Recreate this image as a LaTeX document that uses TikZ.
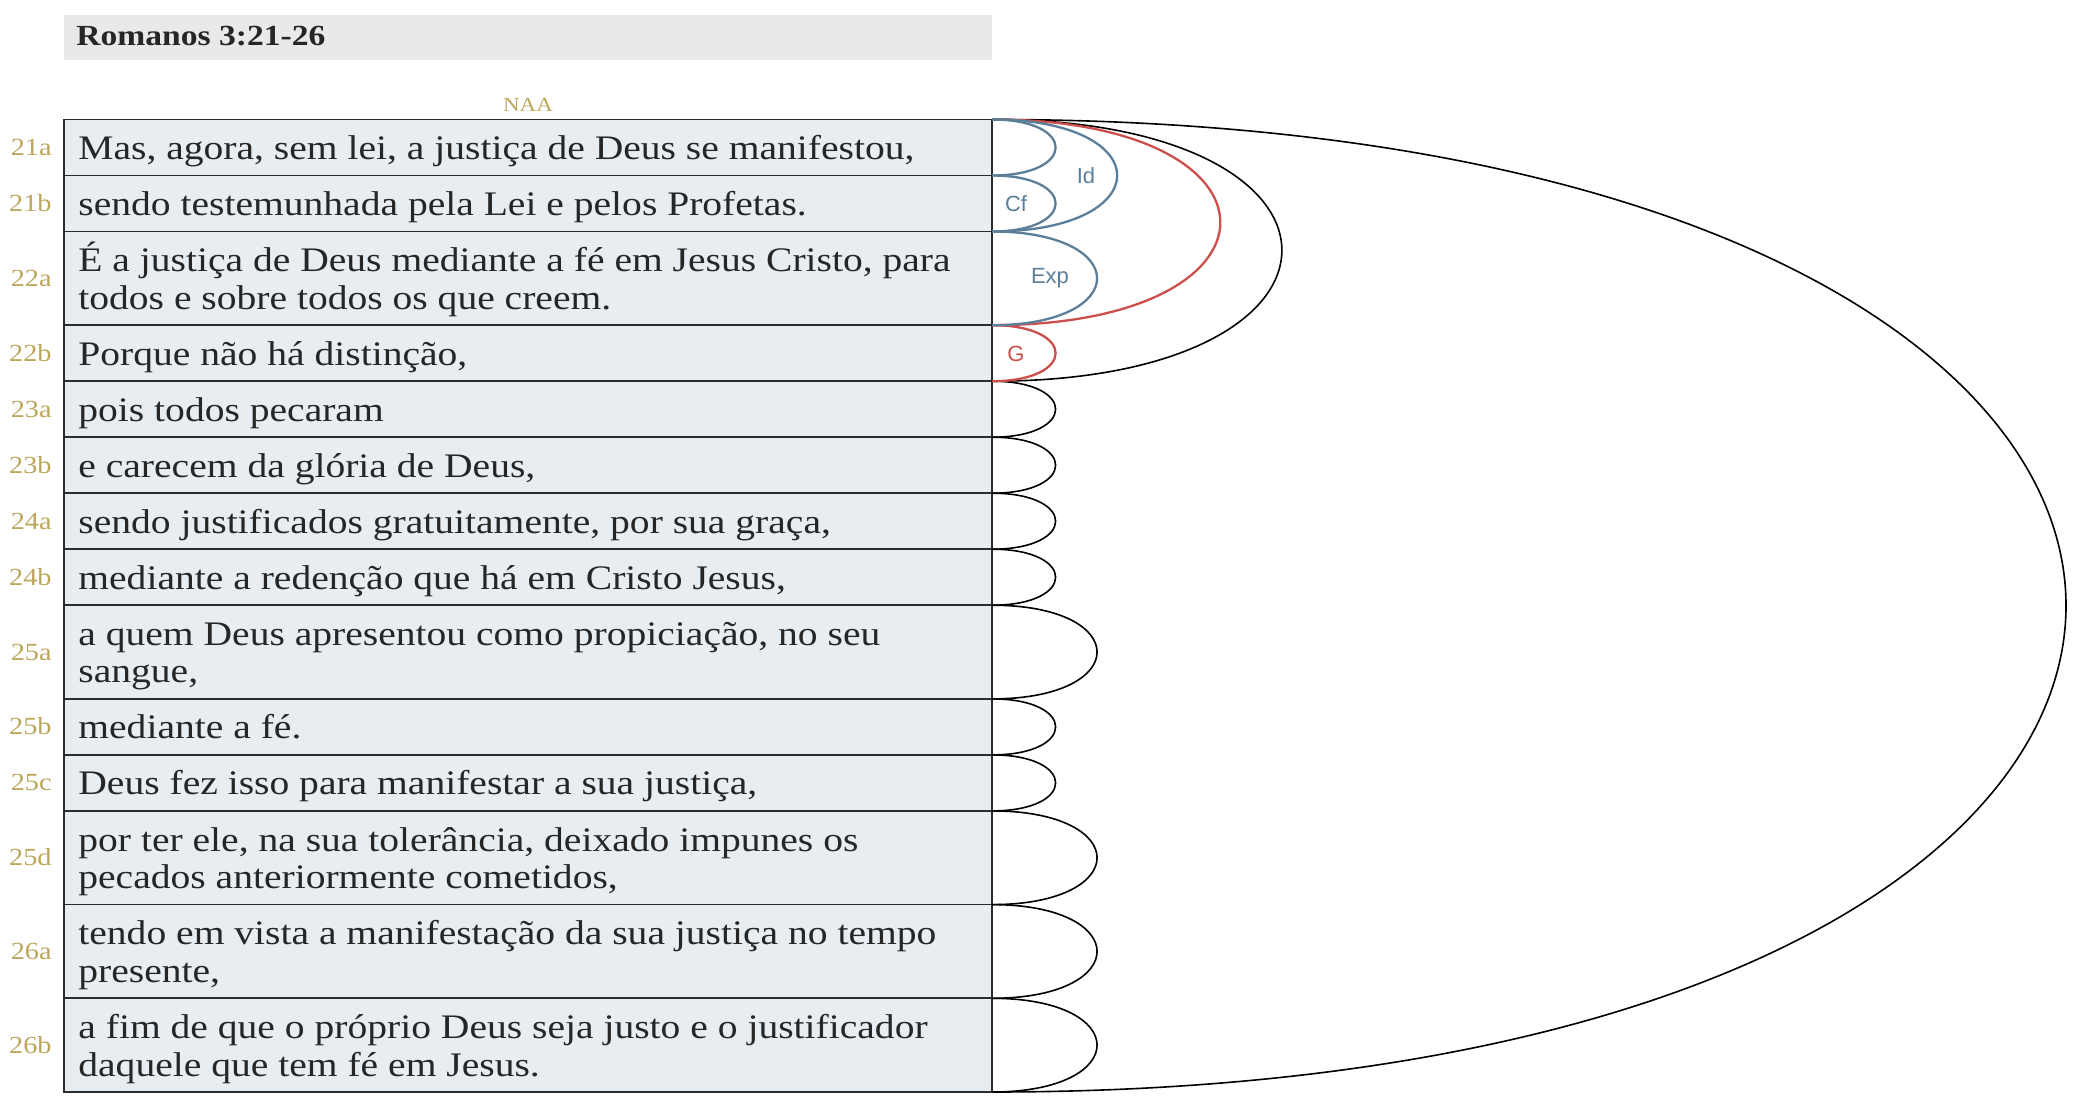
\documentclass[tikz,border=0pt]{standalone}
\usepackage{fontspec}
\setmainfont[FakeStretch=1.15]{Liberation Serif}
\newfontfamily\lblsans{Liberation Sans}
\usetikzlibrary{calc}
\definecolor{rowfill}{HTML}{E8EDF1}
\definecolor{rowline}{HTML}{2B2B2B}
\definecolor{txtcol}{HTML}{262626}
\definecolor{gold}{HTML}{BBA65C}
\definecolor{titlebg}{HTML}{E9E9E9}
\definecolor{arcblue}{HTML}{5B7F99}
\definecolor{arcred}{HTML}{CC4F4B}
\begin{document}
\begin{tikzpicture}[x=0.5pt,y=-0.5pt,
  rowbox/.style={draw=rowline,fill=rowfill,line width=0.85pt,minimum width=464pt,inner sep=0pt,outer sep=0pt},
  rowtxt/.style={anchor=base west,inner sep=0pt,text=txtcol,font=\fontsize{17.2pt}{18.7pt}\selectfont},
  vlabel/.style={anchor=base east,inner sep=0pt,text=gold,font=\fontsize{12.3pt}{14pt}\selectfont},
  arclabel/.style={inner sep=0pt,font=\lblsans\fontsize{11pt}{13pt}\selectfont},
  blackarc/.style={draw=black,line width=0.8pt},
  bluearc/.style={draw=arcblue,line width=1.15pt},
  redarc/.style={draw=arcred,line width=1.15pt}]
\useasboundingbox (0,0) rectangle (2080,1106);

% title
\node[fill=titlebg,minimum width=464pt,minimum height=22.55pt,inner sep=0pt] (titlebar) at (528,37.15) {};
\node[anchor=base west,inner sep=0pt,text=txtcol,font=\bfseries\fontsize{14.6pt}{16pt}\selectfont] (title) at (76,46) {Romanos 3:21-26};
\node[anchor=base,inner sep=0pt,text=gold,font=\fontsize{10pt}{12pt}\selectfont] (naa) at (528,111.7) {NAA};

% rows
\node[rowbox,minimum height=28pt] (r21a) at (528,147.5) {};
\node[rowbox,minimum height=28pt] (r21b) at (528,203.5) {};
\node[rowbox,minimum height=46.85pt] (r22a) at (528,278.35) {};
\node[rowbox,minimum height=28pt] (r22b) at (528,353.2) {};
\node[rowbox,minimum height=28pt] (r23a) at (528,409.2) {};
\node[rowbox,minimum height=28pt] (r23b) at (528,465.2) {};
\node[rowbox,minimum height=28pt] (r24a) at (528,521.2) {};
\node[rowbox,minimum height=28pt] (r24b) at (528,577.2) {};
\node[rowbox,minimum height=46.85pt] (r25a) at (528,652.05) {};
\node[rowbox,minimum height=28pt] (r25b) at (528,726.9) {};
\node[rowbox,minimum height=28pt] (r25c) at (528,782.9) {};
\node[rowbox,minimum height=46.85pt] (r25d) at (528,857.75) {};
\node[rowbox,minimum height=46.85pt] (r26a) at (528,951.45) {};
\node[rowbox,minimum height=46.85pt] (r26b) at (528,1045.15) {};

% row texts
\node[rowtxt] (t21a) at ($(r21a.west)+(14,12)$) {Mas, agora, sem lei, a justiça de Deus se manifestou,};
\node[rowtxt] (t21b) at ($(r21b.west)+(14,12)$) {sendo testemunhada pela Lei e pelos Profetas.};
\node[rowtxt] (t22a) at ($(r22a.west)+(14,-6.5)$) {\vtop{\hbox{É a justiça de Deus mediante a fé em Jesus Cristo, para}\hbox{todos e sobre todos os que creem.}}};
\node[rowtxt] (t22b) at ($(r22b.west)+(14,12)$) {Porque não há distinção,};
\node[rowtxt] (t23a) at ($(r23a.west)+(14,12)$) {pois todos pecaram};
\node[rowtxt] (t23b) at ($(r23b.west)+(14,12)$) {e carecem da glória de Deus,};
\node[rowtxt] (t24a) at ($(r24a.west)+(14,12)$) {sendo justificados gratuitamente, por sua graça,};
\node[rowtxt] (t24b) at ($(r24b.west)+(14,12)$) {mediante a redenção que há em Cristo Jesus,};
\node[rowtxt] (t25a) at ($(r25a.west)+(14,-6.5)$) {\vtop{\hbox{a quem Deus apresentou como propiciação, no seu}\hbox{sangue,}}};
\node[rowtxt] (t25b) at ($(r25b.west)+(14,12)$) {mediante a fé.};
\node[rowtxt] (t25c) at ($(r25c.west)+(14,12)$) {Deus fez isso para manifestar a sua justiça,};
\node[rowtxt] (t25d) at ($(r25d.west)+(14,-6.5)$) {\vtop{\hbox{por ter ele, na sua tolerância, deixado impunes os}\hbox{pecados anteriormente cometidos,}}};
\node[rowtxt] (t26a) at ($(r26a.west)+(14,-6.5)$) {\vtop{\hbox{tendo em vista a manifestação da sua justiça no tempo}\hbox{presente,}}};
\node[rowtxt] (t26b) at ($(r26b.west)+(14,-6.5)$) {\vtop{\hbox{a fim de que o próprio Deus seja justo e o justificador}\hbox{daquele que tem fé em Jesus.}}};

% verse labels
\node[vlabel] (v21a) at ($(r21a.west)+(-12,8)$) {21a};
\node[vlabel] (v21b) at ($(r21b.west)+(-12,8)$) {21b};
\node[vlabel] (v22a) at ($(r22a.west)+(-12,8)$) {22a};
\node[vlabel] (v22b) at ($(r22b.west)+(-12,8)$) {22b};
\node[vlabel] (v23a) at ($(r23a.west)+(-12,8)$) {23a};
\node[vlabel] (v23b) at ($(r23b.west)+(-12,8)$) {23b};
\node[vlabel] (v24a) at ($(r24a.west)+(-12,8)$) {24a};
\node[vlabel] (v24b) at ($(r24b.west)+(-12,8)$) {24b};
\node[vlabel] (v25a) at ($(r25a.west)+(-12,8)$) {25a};
\node[vlabel] (v25b) at ($(r25b.west)+(-12,8)$) {25b};
\node[vlabel] (v25c) at ($(r25c.west)+(-12,8)$) {25c};
\node[vlabel] (v25d) at ($(r25d.west)+(-12,8)$) {25d};
\node[vlabel] (v26a) at ($(r26a.west)+(-12,8)$) {26a};
\node[vlabel] (v26b) at ($(r26b.west)+(-12,8)$) {26b};

% black arcs
\draw[blackarc] (r21a.north east) .. controls ($(r21a.north east)+(1432,0)$) and ($(r26b.south east)+(1432,0)$) .. (r26b.south east);
\draw[blackarc] (r21a.north east) .. controls ($(r21a.north east)+(386.5,0)$) and ($(r22b.south east)+(386.5,0)$) .. (r22b.south east);
\foreach \r in {r23a,r23b,r24a,r24b,r25b,r25c}{
  \draw[blackarc] (\r.north east) .. controls ($(\r.north east)+(84.8,0)$) and ($(\r.south east)+(84.8,0)$) .. (\r.south east);
}
\foreach \r in {r25a,r25d,r26a,r26b}{
  \draw[blackarc] (\r.north east) .. controls ($(\r.north east)+(140.1,0)$) and ($(\r.south east)+(140.1,0)$) .. (\r.south east);
}

% red arcs
\draw[redarc] (r21a.north east) .. controls ($(r21a.north east)+(304.4,0)$) and ($(r22a.south east)+(304.4,0)$) .. (r22a.south east);
\draw[redarc] (r22b.north east) .. controls ($(r22b.north east)+(84.8,0)$) and ($(r22b.south east)+(84.8,0)$) .. (r22b.south east);

% blue arcs
\draw[bluearc] (r21a.north east) .. controls ($(r21a.north east)+(166.9,0)$) and ($(r21b.south east)+(166.9,0)$) .. (r21b.south east);
\draw[bluearc] (r21a.north east) .. controls ($(r21a.north east)+(84.8,0)$) and ($(r21a.south east)+(84.8,0)$) .. (r21a.south east);
\draw[bluearc] (r21b.north east) .. controls ($(r21b.north east)+(84.8,0)$) and ($(r21b.south east)+(84.8,0)$) .. (r21b.south east);
\draw[bluearc] (r22a.north east) .. controls ($(r22a.north east)+(140.1,0)$) and ($(r22a.south east)+(140.1,0)$) .. (r22a.south east);

% arc labels
\node[arclabel,text=arcblue] (lid) at (1086,176) {Id};
\node[arclabel,text=arcblue] (lcf) at (1016,203.5) {Cf};
\node[arclabel,text=arcblue] (lexp) at (1050,278.3) {Exp};
\node[arclabel,text=arcred] (lg) at (1016,354) {G};
\end{tikzpicture}
\end{document}
